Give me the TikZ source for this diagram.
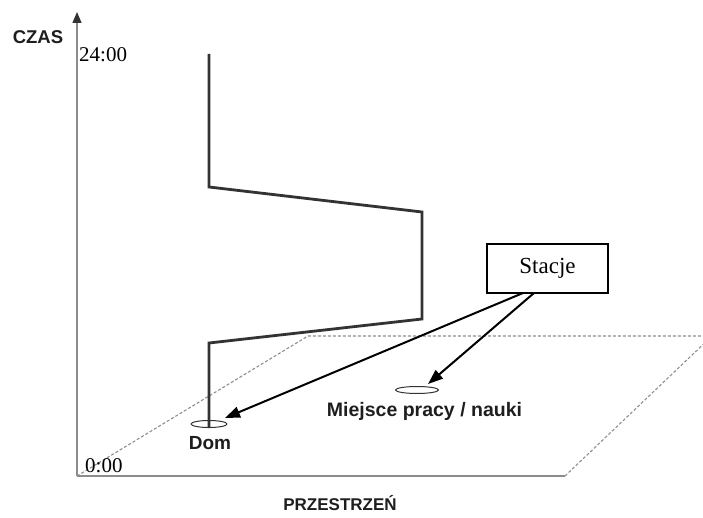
\documentclass[tikz,border=0pt]{standalone}
\usepackage{fontspec}
\setmainfont{Liberation Serif}
\setsansfont{Liberation Sans}
\usetikzlibrary{arrows.meta,shapes.geometric}
\definecolor{axisgray}{HTML}{8C8C8C}
\definecolor{planegray}{HTML}{8E8E8E}
\definecolor{pathgray}{HTML}{333333}
\definecolor{labeltext}{HTML}{1E1E1E}
\begin{document}
\begin{tikzpicture}[x=1pt,y=-1pt,
  axis/.style={draw=axisgray,line width=1.4pt},
  plane/.style={draw=planegray,line width=1.1pt,dash pattern=on 3pt off 2pt},
  lifeline/.style={draw=pathgray,line width=2.8pt,line join=miter},
  station/.style={draw=pathgray,line width=1pt,ellipse,inner sep=0pt,minimum height=7pt},
  pointer/.style={draw=black,line width=2pt,-{Triangle[length=15pt,width=11pt]}},
  axislabel/.style={text=labeltext,inner sep=0pt},
  placelabel/.style={text=labeltext,inner sep=0pt},
  hourlabel/.style={font=\fontsize{21}{24}\selectfont,inner sep=0pt,anchor=west},
  callout/.style={draw=black,line width=1.3pt,minimum width=121pt,minimum height=49pt,
                  font=\fontsize{23}{26}\selectfont,inner sep=0pt}]
  \useasboundingbox (0,0) rectangle (703,518);
  \clip (0,0) rectangle (703,518);

  % ground plane (space)
  \coordinate (o) at (77,476);
  \coordinate (pbr) at (565,476);
  \coordinate (ptl) at (308,336);
  \coordinate (ptr) at (712,336);
  \draw[plane] (o) -- (ptl) -- (ptr);
  \draw[plane] (pbr) -- (ptr);

  % axes
  \coordinate (ytop) at (77,12);
  \draw[axis] (o) -- (pbr);
  \draw[axis,-{Triangle[length=11pt,width=9pt,color=pathgray,fill=pathgray]}] (o) -- (ytop);

  % stations
  \node[station,minimum width=36pt] (dom) at (209,424) {};
  \node[station,minimum width=43pt] (praca) at (417,390) {};

  % space-time path
  \coordinate (p0) at (209,54);
  \coordinate (p1) at (209,187);
  \coordinate (p2) at (422,212);
  \coordinate (p3) at (422,319);
  \coordinate (p4) at (209,343);
  \coordinate (p5) at (209,428);
  \draw[lifeline] (p0) -- (p1) -- (p2) -- (p3) -- (p4) -- (p5);

  % labels
  \node[axislabel,font=\sffamily\bfseries\fontsize{18.5}{20}\selectfont] (czas) at (38,37) {CZAS};
  \node[axislabel,font=\sffamily\bfseries\fontsize{17}{20}\selectfont] (przestrzen) at (340,503) {PRZESTRZEŃ};
  \node[hourlabel] (h24) at (79,55) {24:00};
  \node[hourlabel] (h0) at (85,466) {0:00};
  \node[placelabel,font=\sffamily\bfseries\fontsize{19}{20}\selectfont] (domlabel) at (210,443) {Dom};
  \node[placelabel,font=\sffamily\bfseries\fontsize{19.5}{20}\selectfont] (pracalabel) at (424.5,411) {Miejsce pracy / nauki};

  % callout
  \node[callout] (stacje) at (547.5,268.5) {Stacje};
  \coordinate (s1) at (523,293);
  \coordinate (s2) at (534,293);
  \coordinate (t1) at (225,418);
  \coordinate (t2) at (428,384);
  \draw[pointer] (s1) -- (t1);
  \draw[pointer] (s2) -- (t2);
\end{tikzpicture}
\end{document}
